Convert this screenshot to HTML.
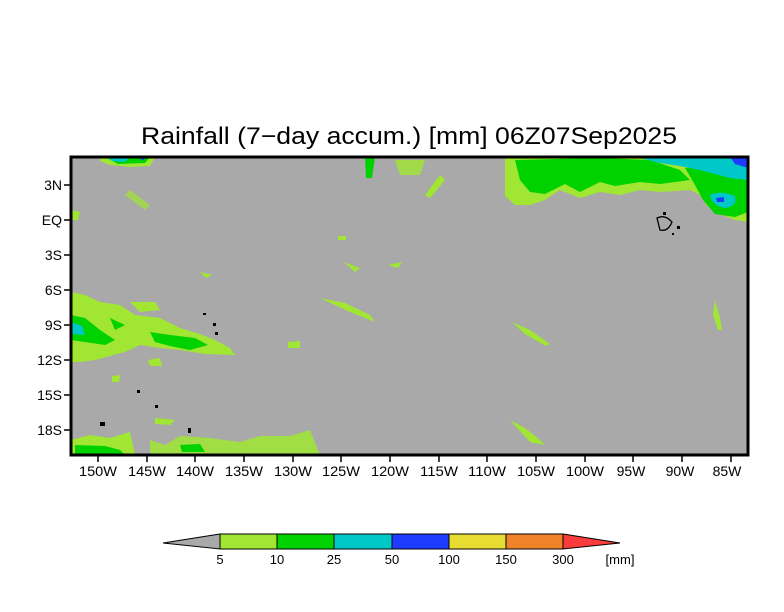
<!DOCTYPE html>
<html><head><meta charset="utf-8"><style>
html,body{margin:0;padding:0;background:#fff;}
svg{display:block;font-family:"Liberation Sans",sans-serif;}
</style></head><body>
<svg width="784" height="612" viewBox="0 0 784 612" xmlns="http://www.w3.org/2000/svg">
<rect width="784" height="612" fill="#fff"/>
<text x="141" y="144" font-size="24" textLength="536" lengthAdjust="spacingAndGlyphs" fill="#000">Rainfall (7−day accum.) [mm] 06Z07Sep2025</text>
<defs><clipPath id="c"><rect x="71" y="157" width="677" height="298"/></clipPath></defs>
<rect x="71" y="157" width="677" height="298" fill="#a9a9a9"/>
<g clip-path="url(#c)">
<path d="M505,157 L748,157 L748,222 L735,220 L720,214 L706,205 L700,195 L690,190 L660,192 L640,190 L620,195 L600,192 L580,198 L560,190 L545,200 L530,205 L515,205 L505,196 Z" fill="#a0e632"/>
<path d="M515,160 L600,158 L650,160 L680,170 L690,180 L660,184 L640,182 L615,186 L600,182 L580,192 L565,184 L545,194 L530,192 L520,180 Z" fill="#00d200"/>
<path d="M685,168 L748,162 L748,212 L735,217 L715,214 L703,200 L695,185 Z" fill="#00d200"/>
<path d="M640,158 L748,158 L748,180 L730,178 L700,170 L680,166 L660,163 Z" fill="#00c8c8"/>
<path d="M710,195 Q720,190 735,196 Q738,206 725,208 Q712,206 710,195Z" fill="#00c8c8"/>
<path d="M716,198 L724,197 L724,202 L717,202Z" fill="#1e3cff"/>
<path d="M730,157 L748,157 L748,168 L735,164Z" fill="#1e3cff"/>
<path d="M100,157 L155,157 L150,166 L130,167 L110,165 L100,161Z" fill="#a0e632"/>
<path d="M105,157 L150,157 L145,163 L118,164Z" fill="#00d200"/>
<path d="M108,157 L130,157 L125,162 L112,161Z" fill="#00c8c8"/>
<path d="M135,157 L148,157 L143,160Z" fill="#1e3cff"/>
<path d="M365,157 L375,157 L372,178 L366,178Z" fill="#00d200"/>
<path d="M395,160 L425,160 L420,175 L400,175Z" fill="#a0e632" opacity=".8"/>
<path d="M425,195 L440,175 L445,180 L430,198Z" fill="#a0e632"/>
<path d="M71,292 L85,295 L100,302 L120,305 L135,315 L160,318 L180,328 L200,334 L215,340 L230,348 L235,355 L205,354 L180,350 L160,348 L140,345 L125,352 L110,356 L95,360 L80,362 L71,362 Z" fill="#a0e632"/>
<path d="M130,302 L155,302 L160,310 L140,312Z" fill="#a0e632"/>
<path d="M71,315 L85,318 L100,330 L115,340 L105,345 L85,342 L71,340Z" fill="#00d200"/>
<path d="M150,332 L170,335 L195,338 L208,345 L190,350 L170,346 L155,342Z" fill="#00d200"/>
<path d="M110,318 L125,325 L115,330Z" fill="#00d200"/>
<path d="M71,322 L82,326 L85,335 L71,334Z" fill="#00c8c8"/>
<path d="M148,360 L160,358 L162,366 L150,366Z" fill="#a0e632"/>
<path d="M112,376 L120,375 L119,382 L112,382Z" fill="#a0e632"/>
<path d="M288,342 L300,341 L300,348 L288,348Z" fill="#a0e632"/>
<path d="M71,440 L90,435 L110,438 L130,432 L135,455 L71,455Z" fill="#a0e632"/>
<path d="M75,445 L105,446 L120,450 L125,455 L75,455Z" fill="#00d200"/>
<path d="M150,440 L165,445 L180,436 L210,438 L240,442 L260,436 L290,436 L310,430 L320,455 L150,455Z" fill="#a0e632" opacity=".85"/>
<path d="M180,445 L200,444 L205,452 L182,452Z" fill="#00d200"/>
<path d="M155,418 L175,420 L170,425 L155,424Z" fill="#a0e632"/>
<path d="M320,298 L345,303 L370,315 L375,322 L350,312Z" fill="#a0e632"/>
<path d="M512,322 L530,330 L550,344 L546,346 L525,334Z" fill="#a0e632"/>
<path d="M715,300 L720,318 L722,330 L718,330 L713,315Z" fill="#a0e632"/>
<path d="M510,420 L525,428 L540,440 L545,445 L530,442Z" fill="#a0e632"/>
<path d="M130,190 L150,205 L145,210 L125,195Z" fill="#a0e632" opacity=".7"/>
<path d="M71,210 L80,212 L78,220 L71,220Z" fill="#a0e632"/>
<path d="M344,262 L360,268 L355,272Z" fill="#a0e632"/>
<path d="M388,265 L402,262 L398,268Z" fill="#a0e632"/>
<path d="M200,272 L212,275 L206,278Z" fill="#a0e632"/>
<path d="M338,236 L346,236 L346,240 L338,240Z" fill="#a0e632"/>
<path d="M657,218 Q665,214 672,222 Q668,232 660,230Z" fill="none" stroke="#000" stroke-width="1.3"/>
<rect x="663" y="212" width="3" height="3" fill="#000"/>
<rect x="677" y="226" width="3" height="3" fill="#000"/>
<rect x="672" y="233" width="2" height="2" fill="#000"/>
<rect x="203" y="313" width="3" height="2" fill="#000"/>
<rect x="213" y="323" width="3" height="3" fill="#000"/>
<rect x="215" y="332" width="3" height="3" fill="#000"/>
<rect x="100" y="422" width="5" height="4" fill="#000"/>
<rect x="137" y="390" width="3" height="3" fill="#000"/>
<rect x="155" y="405" width="3" height="3" fill="#000"/>
<rect x="188" y="428" width="3" height="5" fill="#000"/>
</g>
<rect x="71" y="157" width="677" height="298" fill="none" stroke="#000" stroke-width="3"/>
<g stroke="#000" stroke-width="1.5">
<line x1="64" y1="185" x2="70" y2="185"/><line x1="64" y1="220" x2="70" y2="220"/><line x1="64" y1="255" x2="70" y2="255"/><line x1="64" y1="290" x2="70" y2="290"/><line x1="64" y1="325" x2="70" y2="325"/><line x1="64" y1="360" x2="70" y2="360"/><line x1="64" y1="395" x2="70" y2="395"/><line x1="64" y1="430" x2="70" y2="430"/>
<line x1="98" y1="456" x2="98" y2="462"/><line x1="147" y1="456" x2="147" y2="462"/><line x1="195" y1="456" x2="195" y2="462"/><line x1="244" y1="456" x2="244" y2="462"/><line x1="293" y1="456" x2="293" y2="462"/><line x1="341" y1="456" x2="341" y2="462"/><line x1="390" y1="456" x2="390" y2="462"/><line x1="439" y1="456" x2="439" y2="462"/><line x1="487" y1="456" x2="487" y2="462"/><line x1="536" y1="456" x2="536" y2="462"/><line x1="585" y1="456" x2="585" y2="462"/><line x1="633" y1="456" x2="633" y2="462"/><line x1="682" y1="456" x2="682" y2="462"/><line x1="731" y1="456" x2="731" y2="462"/>
</g>
<g font-size="14" fill="#000" text-anchor="end">
<text x="62" y="190">3N</text><text x="62" y="225">EQ</text><text x="62" y="260">3S</text><text x="62" y="295">6S</text><text x="62" y="330">9S</text><text x="62" y="365">12S</text><text x="62" y="400">15S</text><text x="62" y="435">18S</text>
</g>
<g font-size="14" fill="#000" text-anchor="middle">
<text x="98" y="476" textLength="38" lengthAdjust="spacingAndGlyphs">150W</text><text x="147" y="476" textLength="38" lengthAdjust="spacingAndGlyphs">145W</text><text x="195" y="476" textLength="38" lengthAdjust="spacingAndGlyphs">140W</text><text x="244" y="476" textLength="38" lengthAdjust="spacingAndGlyphs">135W</text><text x="293" y="476" textLength="38" lengthAdjust="spacingAndGlyphs">130W</text><text x="341" y="476" textLength="38" lengthAdjust="spacingAndGlyphs">125W</text><text x="390" y="476" textLength="38" lengthAdjust="spacingAndGlyphs">120W</text><text x="439" y="476" textLength="38" lengthAdjust="spacingAndGlyphs">115W</text><text x="487" y="476" textLength="38" lengthAdjust="spacingAndGlyphs">110W</text><text x="536" y="476" textLength="38" lengthAdjust="spacingAndGlyphs">105W</text><text x="585" y="476" textLength="38" lengthAdjust="spacingAndGlyphs">100W</text><text x="631" y="476">95W</text><text x="680" y="476">90W</text><text x="727" y="476">85W</text>
</g>
<g stroke="#000" stroke-width="1">
<polygon points="220,534 220,549 163,543" fill="#a9a9a9"/>
<rect x="220" y="534" width="57" height="15" fill="#a0e632"/>
<rect x="277" y="534" width="57" height="15" fill="#00d200"/>
<rect x="334" y="534" width="58" height="15" fill="#00c8c8"/>
<rect x="392" y="534" width="57" height="15" fill="#1e3cff"/>
<rect x="449" y="534" width="57" height="15" fill="#e6dc32"/>
<rect x="506" y="534" width="57" height="15" fill="#f08228"/>
<polygon points="563,534 563,549 620,543" fill="#fa3c3c"/>
</g>
<g font-size="13" fill="#000" text-anchor="middle">
<text x="220" y="564">5</text><text x="277" y="564">10</text><text x="334" y="564">25</text><text x="392" y="564">50</text><text x="449" y="564">100</text><text x="506" y="564">150</text><text x="563" y="564">300</text><text x="620" y="564">[mm]</text>
</g>
</svg>
</body></html>
